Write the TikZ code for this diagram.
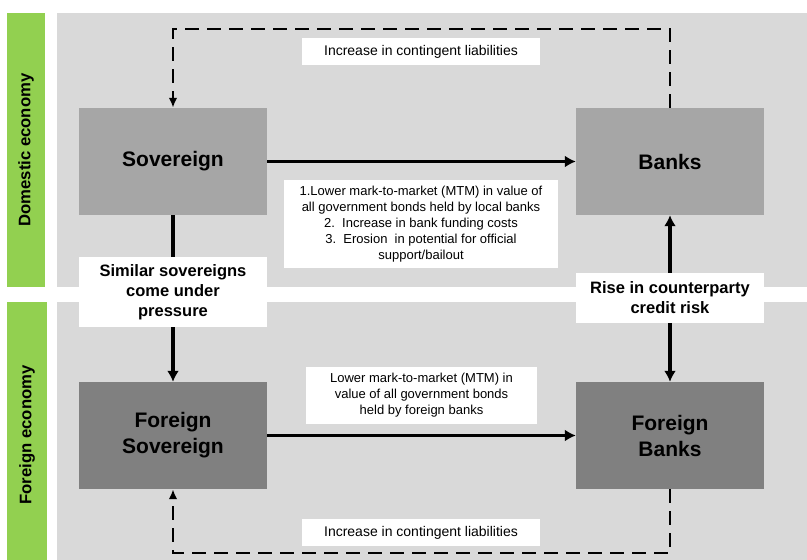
\documentclass[tikz,border=0pt]{standalone}
\usepackage{fontspec}
\setmainfont{Liberation Sans}
\usetikzlibrary{arrows.meta}
\definecolor{G}{RGB}{146,208,80}
\definecolor{P}{RGB}{217,217,217}
\definecolor{S}{RGB}{166,166,166}
\definecolor{F}{RGB}{128,128,128}
\newcommand{\boxfont}{\bfseries\fontsize{21}{26}\selectfont}
\newcommand{\tagfont}{\bfseries\fontsize{16.5}{20}\selectfont}
\newcommand{\notefont}{\fontsize{13}{16}\selectfont}
\newcommand{\drawpanel}[3]{
    \fill[G] (7,#1) rectangle (#3,#2);
    \fill[P] (57,#1) rectangle (807,#2);
}
\tikzset{
  block/.style={fill=#1, minimum width=188, minimum height=107, inner sep=0pt, align=center, font=\boxfont},
  tag/.style={fill=white, minimum width=188, inner sep=0pt, align=center, font=\tagfont},
  note/.style={fill=white, inner sep=0pt, align=center, font=\notefont},
  flow/.style={line width=3.5pt, -{Latex[length=11pt,width=12pt]}},
  backflow/.style={line width=2.8pt, dash pattern=on 14pt off 8pt, -{Latex[length=10pt,width=8.5pt]}},
}
\begin{document}
\begin{tikzpicture}[x=1pt,y=-1pt]
\useasboundingbox[fill=white] (0,0) rectangle (807,560);
\drawpanel{13}{287}{45}
\drawpanel{302}{560}{47}
\node[rotate=90, font=\bfseries\fontsize{16.7}{19}\selectfont] (dom) at (26,150) {Domestic economy};
\node[rotate=90, font=\bfseries\fontsize{16.7}{19}\selectfont] (for) at (27,435) {Foreign economy};
% boxes
\node[block=S] (sov) at (173,161.5) {Sovereign};
\node[block=S] (banks) at (670,161.5) {Banks};
\node[block=F] (fsov) at (173,435.5) {Foreign\\Sovereign};
\node[block=F] (fbanks) at (670,435.5) {Foreign\\Banks};
\node[tag, minimum height=70] (similar) at (173,292) {Similar sovereigns\\come under\\pressure};
\node[tag, minimum height=50] (rise) at (670,298) {Rise in counterparty\\credit risk};
% notes
\node[note, minimum width=238, minimum height=27, font=\fontsize{14}{17}\selectfont] (toptag) at (421,51.5) {Increase in contingent liabilities};
\node[note, minimum width=238, minimum height=27, font=\fontsize{14}{17}\selectfont] (bottag) at (421,532.5) {Increase in contingent liabilities};
\node[note, minimum width=274, minimum height=88] (mtm) at (421,224) {1.Lower mark-to-market (MTM) in value of\\all government bonds held by local banks\\2.\ \ Increase in bank funding costs\\3.\ \ Erosion\ \ in potential for official\\support/bailout};
\node[note, minimum width=231, minimum height=57] (fmtm) at (421.5,395.5) {Lower mark-to-market (MTM) in\\value of all government bonds\\held by foreign banks};
% corners of the dashed loops
\coordinate (tl) at (173,29);
\coordinate (tr) at (670,29);
\coordinate (bl) at (173,553);
\coordinate (br) at (670,553);
% connectors
\draw[flow] (sov) -- (banks);
\draw[flow] (fsov) -- (fbanks);
\draw[line width=3.5pt] (sov.south) -- (similar.north);
\draw[flow] (similar.south) -- (fsov.north);
\draw[flow] (rise.north) -- (banks.south);
\draw[flow] (rise.south) -- (fbanks.north);
\draw[backflow] (banks.north) -- (tr) -- (tl) -- (sov.north);
\draw[backflow] (fbanks.south) -- (br) -- (bl) -- (fsov.south);
\end{tikzpicture}
\end{document}
